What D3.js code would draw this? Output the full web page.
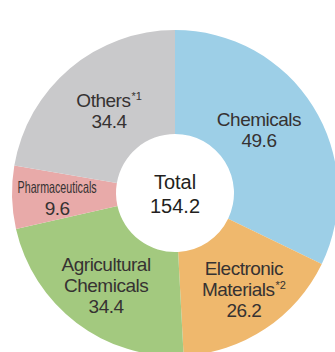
<!DOCTYPE html>
<html>
<head>
<meta charset="utf-8">
<script src="https://cdn.jsdelivr.net/npm/d3@7"></script>
<style>
  html, body { margin: 0; padding: 0; background: #fff; }
  svg { display: block; }
  text { font-family: "Liberation Sans", Arial, Helvetica, sans-serif; }
</style>
</head>
<body>
<svg id="chart" width="335" height="352"></svg>
<script>
// segment data (billions of yen)
const categories = ['Chemicals', 'Electronic Materials', 'Agricultural Chemicals', 'Pharmaceuticals', 'Others'];
const values = [49.6, 26.2, 34.4, 9.6, 34.4];
const colors = ['#9dcfe7', '#efb86d', '#a3c97f', '#e8aaa9', '#c9c9cb'];
// label lines, footnote marks
const labelLines = [['Chemicals'], ['Electronic', 'Materials'], ['Agricultural', 'Chemicals'], ['Pharmaceuticals'], ['Others']];
const footnotes = ['', '*2', '', '', '*1'];
const totalLabel = 'Total';

const width = 335, height = 352;
const cx = 175, cy = 193;
const outerR = 163, innerR = 59;
const fontSize = 19;
const lineH = 21;

const svg = d3.select('#chart');
const g = svg.append('g').attr('transform', `translate(${cx},${cy})`);

const pie = d3.pie().sort(null).value(d => d.value);
const arc = d3.arc().innerRadius(innerR).outerRadius(outerR);

const data = categories.map((c, i) => ({
    name: c, value: values[i], color: colors[i], lines: labelLines[i], note: footnotes[i]
}));
const arcs = pie(data);

g.selectAll('path.slice')
    .data(arcs)
    .join('path')
    .attr('class', 'slice')
    .attr('d', arc)
    .attr('fill', d => d.data.color);

// label placement tweaks: distance from centre and nudge off the mid angle (deg)
const labelRadius = [105, 118, 115, 118, 106];
const labelNudge = [-4.8, -2.1, -0.3, -0.9, 1.7];

arcs.forEach((a, i) => {
    const mid = (a.startAngle + a.endAngle) / 2 + labelNudge[i] * Math.PI / 180;
    const r = labelRadius[i];
    const x = Math.sin(mid) * r;
    const y = -Math.cos(mid) * r;
    const lines = a.data.lines.concat([String(a.data.value)]);
    const n = lines.length;
    const top = y - (n - 1) * lineH / 2 + 7;
    const t = g.append('text')
        .attr('text-anchor', 'middle')
        .attr('fill', '#363232')
        .style('font-size', fontSize + 'px')
        .style('letter-spacing', '-0.5px');
    lines.forEach((line, j) => {
        const ts = t.append('tspan')
            .attr('x', x)
            .attr('y', top + j * lineH);
        if (a.data.name === 'Pharmaceuticals' && j === 0) {
            // condensed in the original
            ts.style('font-size', '16.5px')
                .style('letter-spacing', '0px')
                .attr('y', top - 1)
                .attr('textLength', 79)
                .attr('lengthAdjust', 'spacingAndGlyphs')
                .text(line);
        } else {
            ts.text(line);
        }
        if (a.data.note && j === a.data.lines.length - 1) {
            t.append('tspan')
                .attr('dx', 1)
                .attr('dy', -7)
                .style('font-size', '11px')
                .style('letter-spacing', '0px')
                .text(a.data.note);
        }
    });
});

// centre total
const total = d3.sum(values);
const c = g.append('text')
    .attr('text-anchor', 'middle')
    .attr('fill', '#231f20')
    .style('font-size', '20px');
c.append('tspan').attr('x', 0).attr('y', -4).text(totalLabel);
c.append('tspan').attr('x', 0).attr('y', 20).text(total.toFixed(1));
</script>
</body>
</html>
